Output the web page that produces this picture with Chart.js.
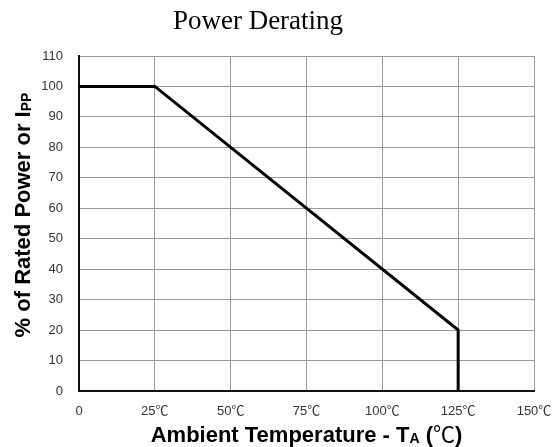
<!DOCTYPE html>
<html>
<head>
<meta charset="utf-8">
<script src="https://cdn.jsdelivr.net/npm/chart.js@4/dist/chart.umd.min.js"></script>
<style>
html,body{margin:0;padding:0;background:#fff;}
#wrap{position:relative;width:554px;height:447px;}
</style>
</head>
<body>
<div id="wrap"><canvas id="c" width="554" height="447"></canvas></div>
<script>
// Data
const temperatures = [0, 25, 125, 125];
const ratedPercent = [100, 100, 20, 0];
const xTicks = [0, 25, 50, 75, 100, 125, 150];
const yTicks = [0, 10, 20, 30, 40, 50, 60, 70, 80, 90, 100, 110];
const chartTitle = "Power Derating";
const xTitleMain = "Ambient Temperature - T";
const xTitleSub = "A";
const xTitleOpen = " (";
const xTitleUnit = "℃";
const xTitleClose = ")";
const yTitleMain = "% of Rated Power or I";
const yTitleSub = "PP";

const points = temperatures.map((t, i) => ({x: t, y: ratedPercent[i]}));
const tickFont = "'Liberation Sans', Arial, 'Noto Sans CJK SC', sans-serif";

const titlesPlugin = {
  id: 'titles',
  afterDraw(chart) {
    const ctx = chart.ctx;
    const area = chart.chartArea;
    ctx.save();
    ctx.fillStyle = '#000';
    ctx.font = "27px 'Liberation Serif', 'Times New Roman', serif";
    ctx.textAlign = 'center';
    ctx.textBaseline = 'middle';
    ctx.fillText(chartTitle, 258, 22);

    const bold = "bold 22px " + tickFont;
    const subf = "bold 14px " + tickFont;
    const unitf = "22px 'Noto Sans CJK SC', sans-serif";
    ctx.textAlign = 'left';
    ctx.textBaseline = 'alphabetic';
    const parts = [
      [xTitleMain, bold, 0], [xTitleSub, subf, 1], [xTitleOpen, bold, 0],
      [xTitleUnit, unitf, 0], [xTitleClose, bold, 0]
    ];
    let total = 0;
    const widths = parts.map(p => { ctx.font = p[1]; const w = ctx.measureText(p[0]).width; total += w; return w; });
    let x = (area.left + area.right) / 2 - total / 2;
    const by = 442;
    parts.forEach((p, i) => { ctx.font = p[1]; ctx.fillText(p[0], x, by + p[2]); x += widths[i]; });

    ctx.translate(30, 215);
    ctx.rotate(-Math.PI / 2);
    ctx.font = bold; const v1 = ctx.measureText(yTitleMain).width;
    ctx.font = subf; const v2 = ctx.measureText(yTitleSub).width;
    let yx = -(v1 + v2) / 2;
    ctx.font = bold; ctx.fillText(yTitleMain, yx, 0); yx += v1;
    ctx.font = subf; ctx.fillText(yTitleSub, yx, 1);
    ctx.restore();
  }
};

new Chart(document.getElementById('c'), {
  type: 'line',
  data: {
    datasets: [{
      data: points,
      borderColor: '#000',
      borderWidth: 3,
      pointRadius: 0,
      tension: 0,
      fill: false
    }]
  },
  options: {
    responsive: false,
    animation: false,
    layout: {padding: {left: 0, top: 56, right: 0, bottom: 0}},
    plugins: {legend: {display: false}, tooltip: {enabled: false}},
    scales: {
      x: {
        type: 'linear', min: 0, max: 150,
        afterBuildTicks(s) { s.ticks = xTicks.map(v => ({value: v})); },
        afterFit(s) { s.height = 56; s.paddingRight = 20; s.paddingLeft = 0; },
        ticks: {
          color: '#333', padding: 13, maxRotation: 0,
          font: {family: tickFont, size: 13},
          callback: v => v === 0 ? '0' : v + '℃'
        },
        grid: {color: '#9a9a9a', lineWidth: 1, drawTicks: false},
        border: {color: '#111', width: 2}
      },
      y: {
        min: 0, max: 110,
        afterBuildTicks(s) { s.ticks = yTicks.map(v => ({value: v})); },
        afterFit(s) { s.width = 79; s.paddingTop = 0; s.paddingBottom = 0; },
        ticks: {
          color: '#333', padding: 16,
          font: {family: tickFont, size: 13}
        },
        grid: {color: '#9a9a9a', lineWidth: 1, drawTicks: false},
        border: {color: '#111', width: 2}
      }
    }
  },
  plugins: [titlesPlugin]
});
</script>
</body>
</html>
